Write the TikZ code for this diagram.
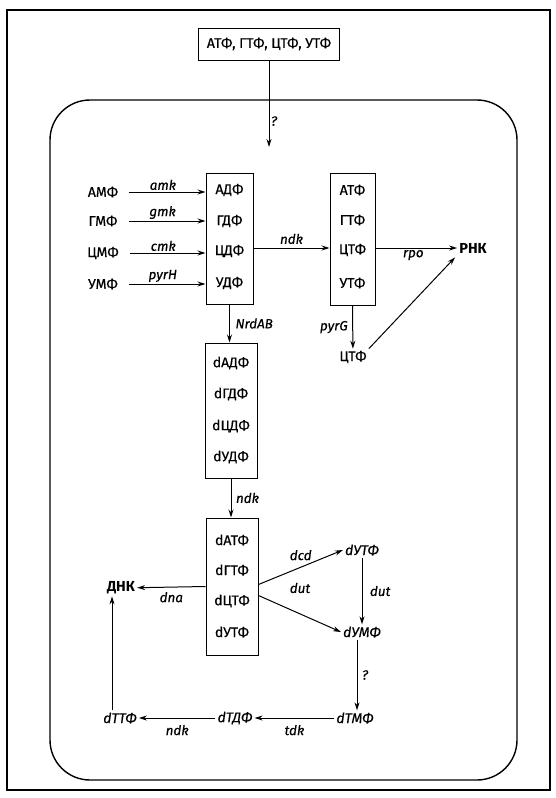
\documentclass[tikz,border=0pt]{standalone}
\usepackage{fontspec}
\setmainfont{Fira Sans}[UprightFeatures={FakeBold=0.5}, ItalicFeatures={FakeBold=0.5}]
\usetikzlibrary{arrows.meta,positioning}

\begin{document}
\begin{tikzpicture}[x=1pt, y=-1pt,
        txt/.style={font=\fontsize{14}{16}\selectfont, inner sep=2pt},
        dtxt/.style={font=\itshape\fontsize{14}{16}\selectfont, inner sep=2pt},
        big/.style={font=\bfseries\fontsize{14.5}{16}\selectfont, inner sep=2pt},
        lbl/.style={font=\itshape\fontsize{13.4}{15}\selectfont, inner sep=1.5pt},
        pool/.style={rectangle, draw, line width=1pt},
        arrow/.style={-{Stealth[length=8pt, width=5pt]}, line width=1pt}
    ]
        \useasboundingbox (0,0) rectangle (555,798);
        % frame and cell
        \draw[line width=1.1pt] (7,10) rectangle (550,790);
        \draw[line width=1.4pt, rounded corners=40pt] (50,100) rectangle (517,780);

        % outside pool
        \node[pool, txt, minimum width=141, minimum height=32] (ntpout) at (269,44) {АТФ, ГТФ, ЦТФ, УТФ};
        \coordinate (entry) at (269,147);
        \draw[arrow] (ntpout) -- (entry) node[lbl, pos=0.7, right] {?};

        % monophosphates
        \node[txt] (amp) at (103,192) {АМФ};
        \node[txt] (gmp) at (103,221) {ГМФ};
        \node[txt] (cmp) at (103,253) {ЦМФ};
        \node[txt] (ump) at (103,284) {УМФ};

        % diphosphates
        \node[pool, minimum width=47, minimum height=131] (dp) at (229.5,238.5) {};
        \node[txt] (adp) at (229.5,190) {АДФ};
        \node[txt] (gdp) at (229.5,221) {ГДФ};
        \node[txt] (cdp) at (229.5,251) {ЦДФ};
        \node[txt] (udp) at (229.5,283) {УДФ};
        \draw[arrow, shorten <=9pt] (amp) -- (amp -| dp.west) node[lbl, midway, above] {amk};
        \draw[arrow, shorten <=9pt] (gmp) -- (gmp -| dp.west) node[lbl, midway, above] {gmk};
        \draw[arrow, shorten <=9pt] (cmp) -- (cmp -| dp.west) node[lbl, midway, above] {cmk};
        \draw[arrow, shorten <=9pt] (ump) -- (ump -| dp.west) node[lbl, midway, above] {pyrH};

        % triphosphates
        \node[pool, minimum width=45, minimum height=132] (tp) at (352.5,239) {};
        \node[txt] (atp) at (352.5,190) {АТФ};
        \node[txt] (gtp) at (352.5,220) {ГТФ};
        \node[txt] (ctp) at (352.5,250) {ЦТФ};
        \node[txt] (utp) at (352.5,283) {УТФ};
        \draw[arrow] (dp.east |- 0,248) -- (tp.west |- 0,248) node[lbl, midway, above, yshift=2pt] {ndk};

        \node[big] (rna) at (473,248) {РНК};
        \draw[arrow] (tp.east |- rna) -- (rna) node[lbl, midway, below, xshift=-3pt] {rpo};
        \node[txt] (ctpb) at (353,357) {ЦТФ};
        \draw[arrow] (tp.south) -- (ctpb) node[lbl, midway, left, xshift=-3pt] {pyrG};
        \draw[arrow, shorten >=3pt] (ctpb.north east) -- (rna.south west);

        % deoxy diphosphates
        \node[pool, minimum width=52, minimum height=135] (ndp) at (231,410.5) {};
        \node[txt] (dadp) at (231,363) {dАДФ};
        \node[txt] (dgdp) at (231,394) {dГДФ};
        \node[txt] (dcdp) at (231,426) {dЦДФ};
        \node[txt] (dudp) at (231,457) {dУДФ};
        \draw[arrow] (dp.south) -- (dp.south |- ndp.north) node[lbl, midway, right, xshift=4pt] {NrdAB};

        % deoxy triphosphates
        \node[pool, minimum width=52, minimum height=137] (ntp) at (232,586.5) {};
        \node[txt] (datp) at (232,540) {dАТФ};
        \node[txt] (dgtp) at (232,570) {dГТФ};
        \node[txt] (dctp) at (232,601) {dЦТФ};
        \node[txt] (dutp) at (232,632) {dУТФ};
        \draw[arrow] (ndp.south) -- (ndp.south |- ntp.north) node[lbl, midway, right, xshift=3pt] {ndk};

        \node[big] (dna) at (121,588) {ДНК};
        \draw[arrow] (ntp.west) -- (dna) node[lbl, midway, below, yshift=-3pt] {dna};

        % thymidine branch
        \node[dtxt] (dutpb) at (362,550) {dУТФ};
        \node[dtxt] (dump) at (362,632) {dУМФ};
        \node[dtxt] (dtmp) at (355,718) {dТМФ};
        \node[dtxt] (dtdp) at (235,718) {dТДФ};
        \node[dtxt] (dttp) at (120,718) {dТТФ};
        \draw[arrow] ([yshift=2pt]ntp.east) -- (dutpb.west) node[lbl, midway, above=5pt] {dcd};
        \draw[arrow] ([yshift=-9pt]ntp.east) -- (dump.west);
        \node[lbl] (dutlbl) at (300,588) {dut};
        \draw[arrow] (dutpb) -- (dump) node[lbl, midway, right, xshift=6pt] {dut};
        \draw[arrow] (dump.south -| 357,0) -- (dtmp.north -| 357,0) node[lbl, midway, right, xshift=3pt] {?};
        \draw[arrow] (dtmp) -- (dtdp) node[lbl, midway, below=5pt] {tdk};
        \draw[arrow] (dtdp) -- (dttp) node[lbl, midway, below=5pt] {ndk};
        \draw[arrow] ([xshift=-8pt]dttp.north) -- ([xshift=-8pt]dttp.north |- dna.south);
    \end{tikzpicture}
\end{document}
